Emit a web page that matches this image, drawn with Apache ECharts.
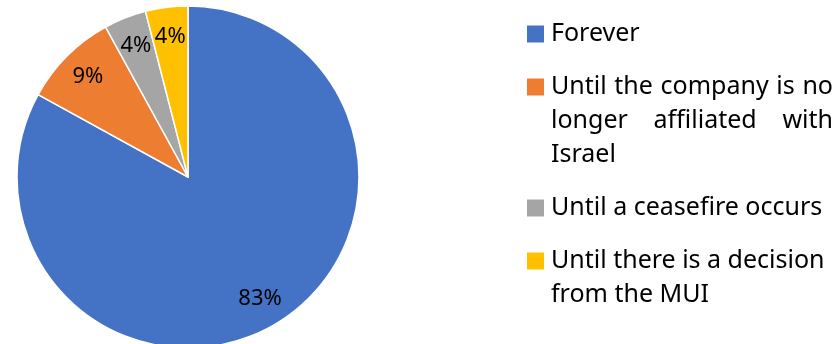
<!DOCTYPE html>
<html>
<head>
<meta charset="utf-8">
<script src="https://cdn.jsdelivr.net/npm/echarts@6/dist/echarts.min.js"></script>
<style>
  html, body { margin: 0; padding: 0; background: #fff; }
  #chart { width: 838px; height: 344px; }
</style>
</head>
<body>
<div id="chart"></div>
<script>
// 数据
var categories = ['Forever', 'Until the company is no longer affiliated with Israel', 'Until a ceasefire occurs', 'Until there is a decision from the MUI'];
var values = [83, 9, 4, 4];
var colors = ['#4472C4', '#ED7D31', '#A5A5A5', '#FFC000'];

var myChart = echarts.init(document.getElementById('chart'));

var font = '"Noto Sans"';
var fontSize = 25;
var seriesData = categories.map(function (name, i) {
    return { name: name, value: values[i] };
});

var txt = { fontFamily: font, fontSize: fontSize, color: '#000', lineHeight: 34 };
var rich = {
    g: { width: 7 },
    s: { width: 24 },
    t: txt
};
colors.forEach(function (c, i) {
    rich['m' + i] = { width: 17, height: 17, backgroundColor: c };
});

// 两端对齐：按词宽计算间距
var ctx = document.createElement('canvas').getContext('2d');
ctx.font = fontSize + 'px ' + font;
var gapId = 0;
function justify(line, width) {
    var words = line.split(' ');
    var sum = 0;
    words.forEach(function (w) { sum += ctx.measureText(w).width; });
    var gap = (width - sum) / (words.length - 1);
    var name = 'jg' + (gapId++);
    rich[name] = { width: gap };
    return words.map(function (w) { return '{t|' + w + '}'; }).join('{' + name + '|}');
}

// 图例文字（手动换行）
var legendText = {};
legendText[categories[0]] = '{m0|}{g|}{t|Forever}';
legendText[categories[1]] = '{m1|}{g|}' + justify('Until the company is no', 282) + '\n{s|}' +
    justify('longer affiliated with', 282) + '\n{s|}{t|Israel}';
legendText[categories[2]] = '{m2|}{g|}{t|Until a ceasefire occurs}';
legendText[categories[3]] = '{m3|}{g|}{t|Until there is a decision}\n{s|}{t|from the MUI}';

var option = {
    color: colors,
    legend: {
        orient: 'vertical',
        left: 517,
        top: 12,
        icon: 'none',
        itemWidth: 0,
        itemHeight: 17,
        itemGap: 19,
        selectedMode: false,
        data: categories,
        formatter: function (name) { return legendText[name]; },
        textStyle: { rich: rich, fontFamily: font, fontSize: fontSize, lineHeight: 34 }
    },
    series: [
        {
            name: 'pie',
            type: 'pie',
            center: [188, 177],
            radius: 171,
            startAngle: 90,
            clockwise: true,
            silent: true,
            label: { show: false },
            labelLine: { show: false },
            itemStyle: { borderColor: '#fff', borderWidth: 1.5 },
            emphasis: { disabled: true },
            data: seriesData
        },
        {
            // 标签层，放在约 0.8 半径处
            name: 'labels',
            type: 'pie',
            center: [188, 177],
            radius: [106, 171],
            startAngle: 90,
            clockwise: true,
            silent: true,
            itemStyle: { color: 'rgba(0,0,0,0)' },
            emphasis: { disabled: true },
            label: {
                show: true,
                position: 'inside',
                fontFamily: font,
                fontSize: 22,
                color: '#000',
                formatter: function (p) { return p.value + '%'; }
            },
            labelLine: { show: false },
            data: seriesData
        }
    ]
};

myChart.setOption(option);
</script>
</body>
</html>
